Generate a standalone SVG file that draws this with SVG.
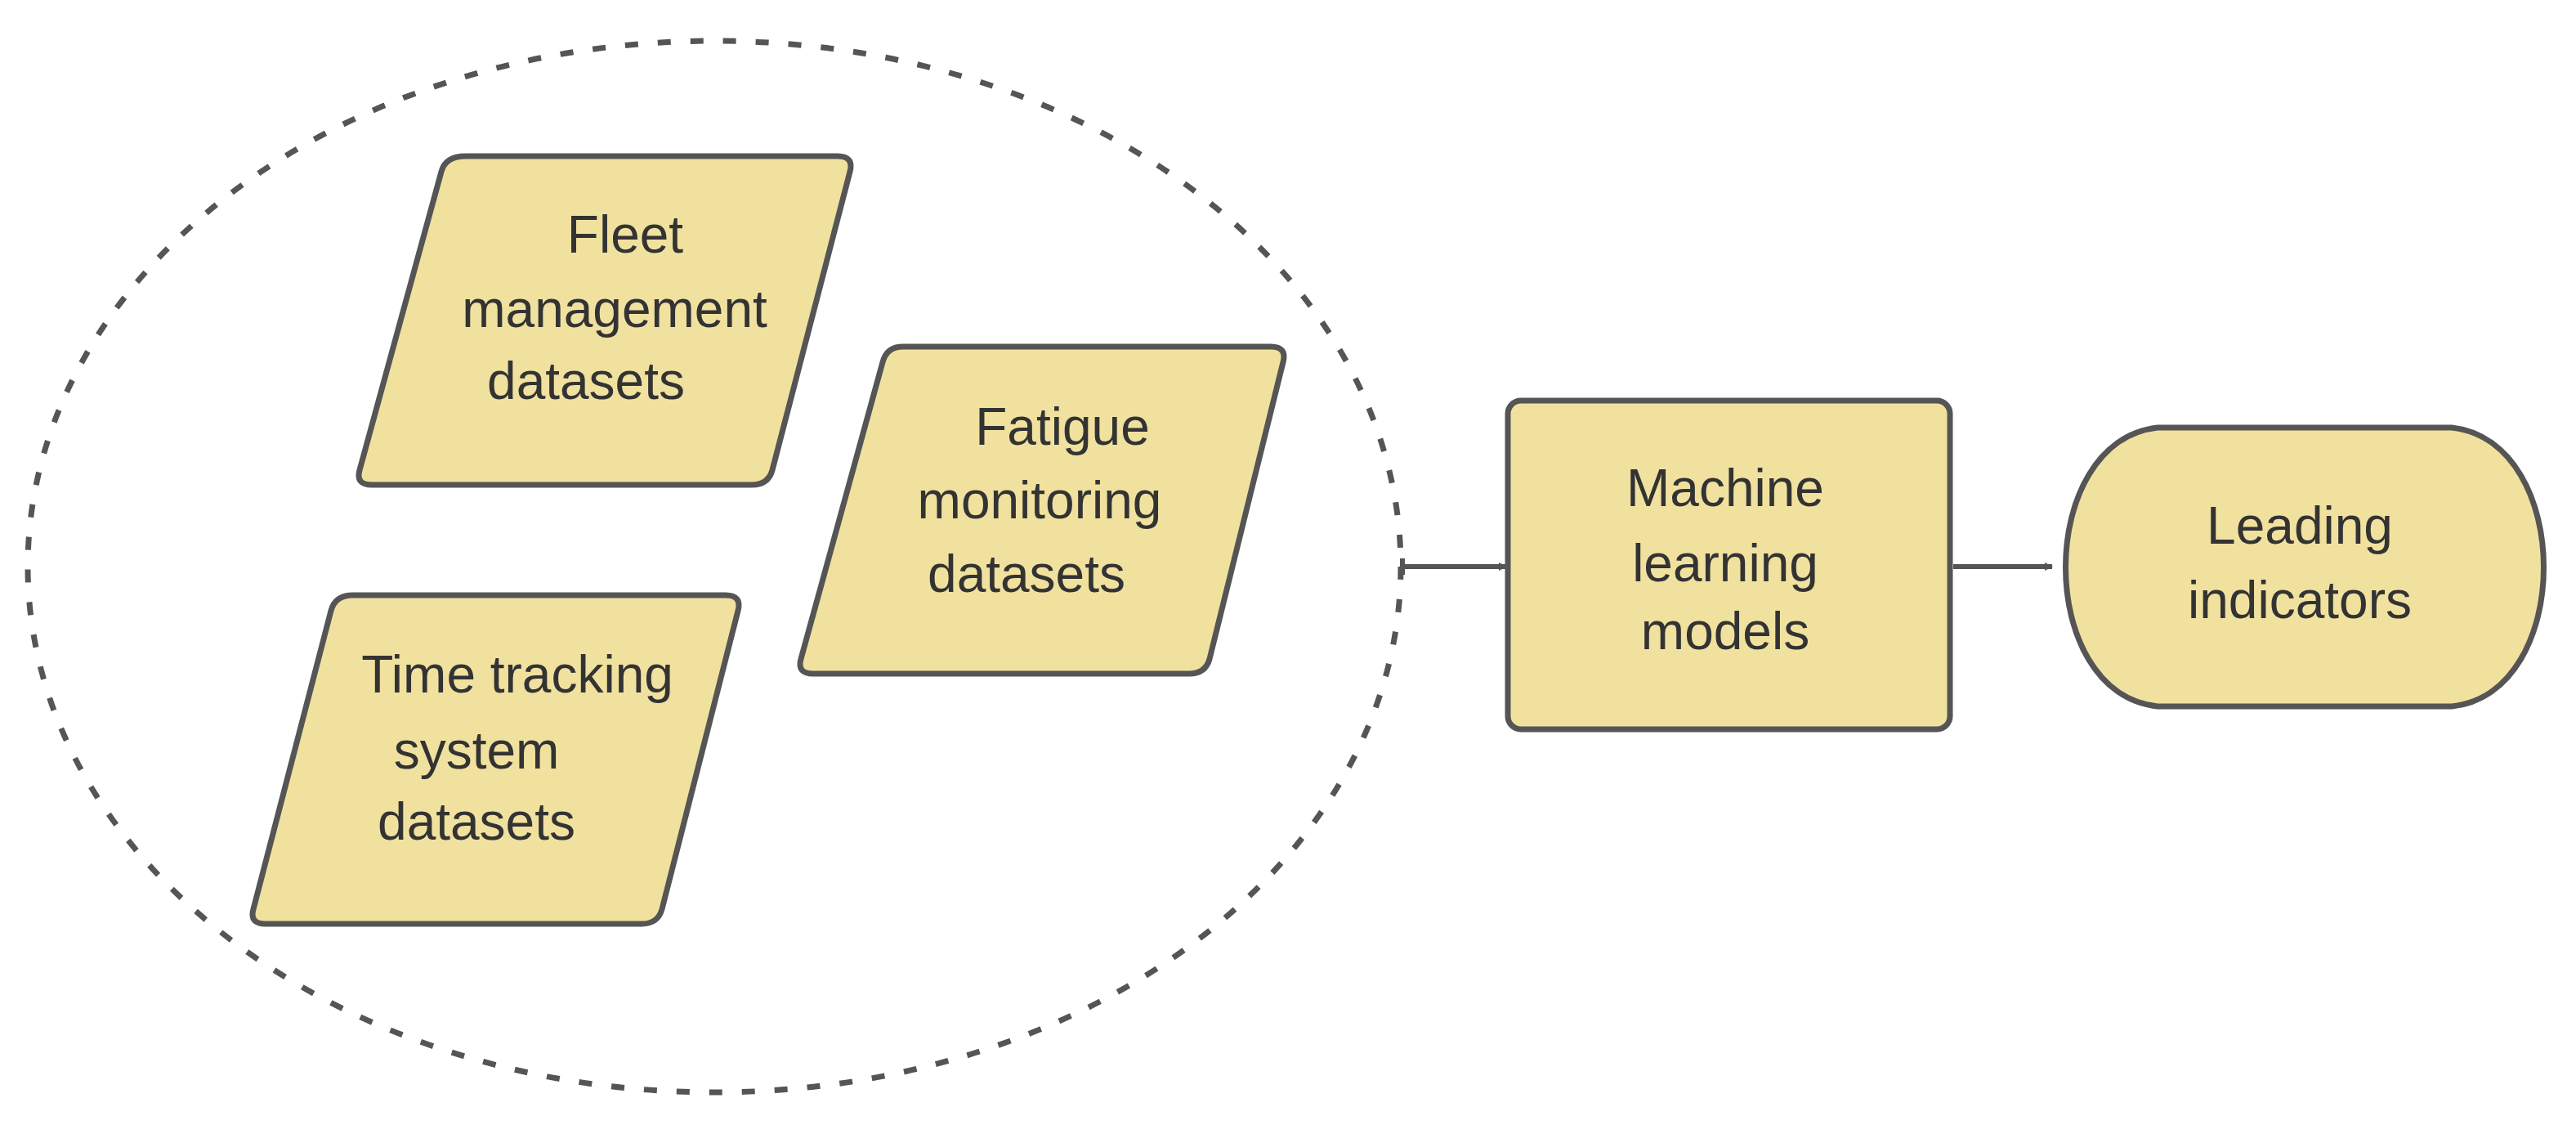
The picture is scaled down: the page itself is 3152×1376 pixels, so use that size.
<svg xmlns="http://www.w3.org/2000/svg" width="3152" height="1376" viewBox="0 0 3152 1376">
<style>
.n{fill:#f1e19f;stroke:#555;stroke-width:7;stroke-linejoin:round}
.t{font-family:"Liberation Sans",Arial,sans-serif;font-size:64px;fill:#333;text-anchor:middle;dominant-baseline:central}
.c{stroke:#555;stroke-width:6;fill:none}
</style>
<defs>
<marker id="ah" markerWidth="10" markerHeight="10" refX="9" refY="5" orient="auto" markerUnits="userSpaceOnUse" viewBox="0 0 10 10"><path d="M0,0 L10,5 L0,10 z" fill="#555"/></marker>
</defs>
<rect width="3152" height="1376" fill="#fff"/>
<g id="group-ellipse"><ellipse cx="874" cy="693" rx="840" ry="643" fill="none" stroke="#555" stroke-width="7" stroke-dasharray="16 24"/></g>
<g id="fleet"><path class="n" d="M570,191 L1025,191 Q1045,191 1040,210 L945,575 Q940,593 920,593 L455,593 Q435,593 440,575 L540,210 Q545,191 570,191 z"/>
<text class="t" x="765" y="287">Fleet</text><text class="t" x="752" y="378">management</text><text class="t" x="717" y="466">datasets</text></g>
<g id="fatigue"><path class="n" d="M1105,424 L1555,424 Q1575,424 1570,443 L1480,806 Q1475,824 1455,824 L995,824 Q975,824 980,806 L1080,443 Q1085,424 1105,424 z"/>
<text class="t" x="1300" y="522">Fatigue</text><text class="t" x="1272" y="612">monitoring</text><text class="t" x="1256" y="702">datasets</text></g>
<g id="time"><path class="n" d="M432,728 L888,728 Q908,728 903,747 L810,1112 Q805,1130 785,1130 L325,1130 Q305,1130 310,1112 L405,747 Q410,728 432,728 z"/>
<text class="t" x="633" y="825">Time tracking</text><text class="t" x="583" y="918">system</text><text class="t" x="583" y="1005">datasets</text></g>
<g id="ml"><rect class="n" x="1845" y="490" width="541" height="402" rx="16"/>
<text class="t" x="2111" y="597">Machine</text><text class="t" x="2111" y="689">learning</text><text class="t" x="2111" y="772">models</text></g>
<g id="leading"><path class="n" d="M2640,523 L3000,523 C3150,540 3150,848 3000,864 L2640,864 C2490,848 2490,540 2640,523 z"/>
<text class="t" x="2814" y="643">Leading</text><text class="t" x="2814" y="734">indicators</text></g>
<g id="connectors">
<line class="c" x1="1716" y1="693" x2="1843" y2="693" marker-end="url(#ah)"/>
<line class="c" x1="1716" y1="683" x2="1716" y2="703"/>
<line class="c" x1="2390" y1="693" x2="2511" y2="693" marker-end="url(#ah)"/>
</g>
<style>marker path{}</style>
</svg>
